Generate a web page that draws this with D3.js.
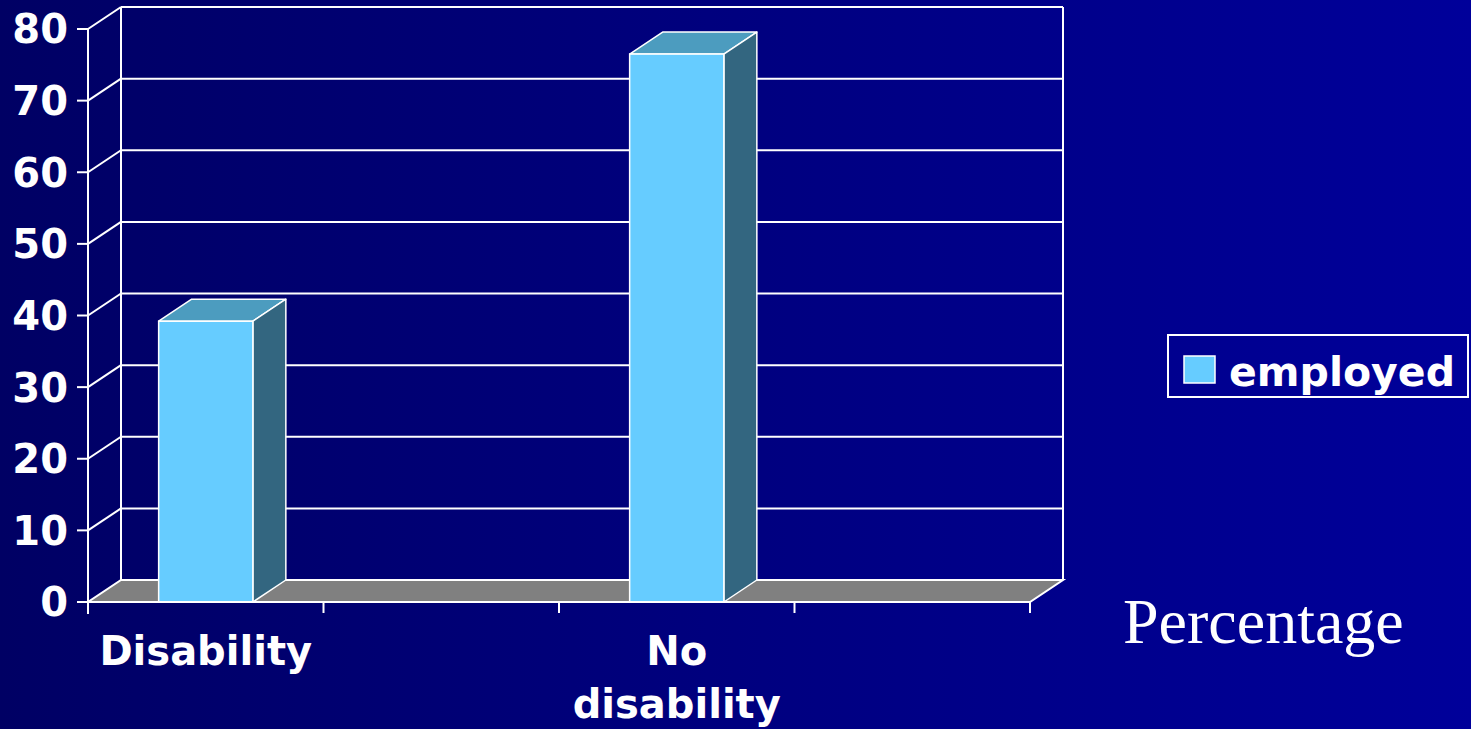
<!DOCTYPE html>
<html>
<head>
<meta charset="utf-8">
<script src="https://cdn.jsdelivr.net/npm/d3@7"></script>
<style>
  html, body { margin: 0; padding: 0; overflow: hidden; }
  svg { display: block; }
</style>
</head>
<body>
<div id="chart"></div>
<script>
// data
const categories = ["Disability", "", "No disability", ""];
const categoryLines = [["Disability"], [], ["No", "disability"], []];
const employed = [39.2, null, 76.5, null];
const yTicks = [0, 10, 20, 30, 40, 50, 60, 70, 80];
const seriesName = "employed";
const axisTitle = "Percentage";

const W = 1471, H = 729;
const depth = { dx: 33, dy: -22 };
const font = "'DejaVu Sans', Verdana, sans-serif";

const svg = d3.select("#chart").append("svg")
  .attr("width", W)
  .attr("height", H);

// background gradient
const grad = svg.append("defs").append("linearGradient")
  .attr("id", "bg").attr("x1", "0").attr("x2", "1").attr("y1", "0").attr("y2", "0");
grad.append("stop").attr("offset", "0%").attr("stop-color", "#000064");
grad.append("stop").attr("offset", "100%").attr("stop-color", "#00009a");
svg.append("rect").attr("width", W).attr("height", H).attr("fill", "url(#bg)");

const x = d3.scaleBand()
  .domain(d3.range(categories.length))
  .range([88, 1030])
  .paddingInner(0.6)
  .paddingOuter(0.3);
const xEdge = d3.scaleBand()
  .domain(d3.range(categories.length))
  .range([88, 1030])
  .padding(0);
const y = d3.scaleLinear().domain([0, 80]).range([602, 29]);

const x0 = x.range()[0], x1 = x.range()[1];
const line = "#ffffff";

// back wall + gridlines
const back = svg.append("g");
back.selectAll(".grid")
  .data(yTicks.filter(d => d > 0))
  .join("line")
  .attr("x1", x0 + depth.dx).attr("x2", x1 + depth.dx)
  .attr("y1", d => y(d) + depth.dy).attr("y2", d => y(d) + depth.dy)
  .attr("stroke", line).attr("stroke-width", 2);
back.selectAll(".diag")
  .data(yTicks.filter(d => d > 0))
  .join("line")
  .attr("x1", x0).attr("x2", x0 + depth.dx)
  .attr("y1", d => y(d)).attr("y2", d => y(d) + depth.dy)
  .attr("stroke", line).attr("stroke-width", 2);
back.append("line")
  .attr("x1", x0 + depth.dx).attr("x2", x0 + depth.dx)
  .attr("y1", y(80) + depth.dy).attr("y2", y(0) + depth.dy)
  .attr("stroke", line).attr("stroke-width", 2);
back.append("line")
  .attr("x1", x1 + depth.dx).attr("x2", x1 + depth.dx)
  .attr("y1", y(80) + depth.dy).attr("y2", y(0) + depth.dy)
  .attr("stroke", line).attr("stroke-width", 2);

// floor
const fy = y(0);
svg.append("path")
  .attr("d", `M${x0},${fy} L${x1},${fy} L${x1 + depth.dx},${fy + depth.dy} L${x0 + depth.dx},${fy + depth.dy} Z`)
  .attr("fill", "#808080")
  .attr("stroke", line).attr("stroke-width", 2);

// bars
const bars = svg.selectAll(".bar")
  .data(employed.map((v, i) => ({ v, i })).filter(d => d.v != null))
  .join("g").attr("class", "bar");
bars.append("path")
  .attr("d", d => {
    const l = x(d.i), r = l + x.bandwidth(), t = y(d.v);
    return `M${l},${t} L${l + depth.dx},${t + depth.dy} L${r + depth.dx},${t + depth.dy} L${r},${t} Z`;
  })
  .attr("fill", "#4c9cbf").attr("stroke", line).attr("stroke-width", 1.5).attr("stroke-linejoin", "round");
bars.append("path")
  .attr("d", d => {
    const r = x(d.i) + x.bandwidth(), t = y(d.v), b = y(0);
    return `M${r},${t} L${r + depth.dx},${t + depth.dy} L${r + depth.dx},${b + depth.dy} L${r},${b} Z`;
  })
  .attr("fill", "#336680").attr("stroke", line).attr("stroke-width", 1.5).attr("stroke-linejoin", "round");
bars.append("rect")
  .attr("x", d => x(d.i))
  .attr("y", d => y(d.v))
  .attr("width", x.bandwidth())
  .attr("height", d => y(0) - y(d.v))
  .attr("fill", "#66ccff").attr("stroke", line).attr("stroke-width", 1.5);

// front axes
svg.append("line")
  .attr("x1", x0).attr("x2", x0).attr("y1", y(80)).attr("y2", y(0) + 12)
  .attr("stroke", line).attr("stroke-width", 2);
svg.append("line")
  .attr("x1", x0).attr("x2", x1).attr("y1", y(0)).attr("y2", y(0))
  .attr("stroke", line).attr("stroke-width", 2);

// y ticks
const yg = svg.append("g");
yg.selectAll("line")
  .data(yTicks).join("line")
  .attr("x1", x0 - 11).attr("x2", x0)
  .attr("y1", d => y(d)).attr("y2", d => y(d))
  .attr("stroke", line).attr("stroke-width", 2);
yg.selectAll("text")
  .data(yTicks).join("text")
  .attr("x", 68).attr("y", d => y(d))
  .attr("dy", "0.36em")
  .attr("text-anchor", "end")
  .attr("fill", "#fff")
  .attr("font-family", font).attr("font-weight", "bold").attr("font-size", 40)
  .text(d => d);

// x ticks at band edges
const edges = xEdge.domain().map(i => xEdge(i)).concat([x1]);
svg.selectAll(".xtick")
  .data(edges).join("line")
  .attr("x1", d => d).attr("x2", d => d)
  .attr("y1", y(0)).attr("y2", y(0) + 11)
  .attr("stroke", line).attr("stroke-width", 2);

// category labels
const labels = svg.selectAll(".cat")
  .data(categoryLines.map((lines, i) => ({ lines, i })))
  .join("text")
  .attr("text-anchor", "middle")
  .attr("fill", "#fff")
  .attr("font-family", font).attr("font-weight", "bold").attr("font-size", 40);
labels.selectAll("tspan")
  .data(d => d.lines.map((t, k) => ({ t, k, i: d.i })))
  .join("tspan")
  .attr("x", d => x(d.i) + x.bandwidth() / 2)
  .attr("y", d => 665 + d.k * 53)
  .text(d => d.t);

// legend
const lg = svg.append("g");
lg.append("rect")
  .attr("x", 1168).attr("y", 335).attr("width", 300).attr("height", 62)
  .attr("fill", "none").attr("stroke", line).attr("stroke-width", 2);
lg.append("rect")
  .attr("x", 1184).attr("y", 356).attr("width", 31).attr("height", 27)
  .attr("fill", "#66ccff").attr("stroke", line).attr("stroke-width", 1.5);
lg.append("text")
  .attr("x", 1229).attr("y", 386)
  .attr("fill", "#fff")
  .attr("font-family", font).attr("font-weight", "bold").attr("font-size", 41)
  .text(seriesName);

// axis title
svg.append("text")
  .attr("x", 1123).attr("y", 643)
  .attr("fill", "#fff")
  .attr("font-family", "'Liberation Serif', 'Times New Roman', serif")
  .attr("font-size", 64)
  .text(axisTitle);
</script>
</body>
</html>
